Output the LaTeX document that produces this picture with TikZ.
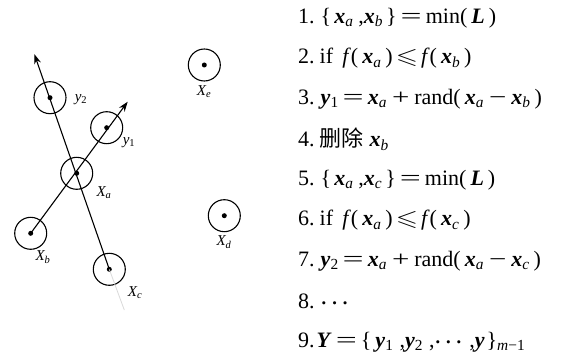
\documentclass[tikz,border=0pt]{standalone}
\usepackage{amsmath,amssymb,graphicx}
\usepackage{fontspec}
\setmainfont{Liberation Serif}
\newfontfamily\cjk{Noto Sans CJK SC}
\usetikzlibrary{arrows.meta}
\newcommand\vx[1]{\textbf{\textit{#1}}}
\newcommand\vsub[1]{\textsubscript{\textit{#1}}}
\newcommand\vsubu[1]{\textsubscript{#1}}
\newcommand\weq{\hspace{4pt}\scalebox{1.7}[1]{=}\hspace{4pt}}
\newcommand\wplus{\hspace{5pt}\scalebox{1.4}[1]{+}\hspace{5pt}}
\newcommand\wminus{\hspace{5pt}\scalebox{1.4}[1]{−}\hspace{5pt}}
\newcommand\wle{\hspace{3pt}\scalebox{1.3}[1]{$\leqslant$}\hspace{3pt}}
\newcommand\lp{(\hspace{4pt}}
\newcommand\rp{\hspace{4pt})}
\tikzset{
  pt/.style={circle,draw,line width=1.1pt,minimum size=32pt,inner sep=0pt},
  dotc/.style={circle,fill,inner sep=0pt,minimum size=5pt},
  lab/.style={font=\fontsize{15}{17}\selectfont\itshape,inner sep=0pt},
  vec/.style={line width=1.1pt,-{Stealth[length=10pt,width=7pt]}},
  stepline/.style={anchor=west,inner sep=0pt,font=\fontsize{22}{25}\selectfont}
}
\begin{document}
\begin{tikzpicture}[x=1pt,y=-1pt]
\useasboundingbox (0,0) rectangle (568,358);
% points
\node[pt] (y2) at (50,97.7) {};
\node[pt] (y1) at (106.7,127.7) {};
\node[pt] (xa) at (76.7,173.3) {};
\node[pt] (xb) at (30.7,233.3) {};
\node[pt] (xc) at (109.3,269.3) {};
\node[pt] (xe) at (204.3,65) {};
\node[pt] (xd) at (224.3,215.7) {};
\foreach \n in {y2,y1,xa,xb,xc,xe,xd} \node[dotc] at (\n.center) {};
% connectors
\coordinate (tip1) at (127.7,101.7);
\coordinate (tip2) at (34.3,54);
\coordinate (tail2) at (124.3,310);
\draw[black!15,line width=0.8pt] (xc.center) -- (tail2);
\draw[vec] (xb.center) -- (tip1);
\draw[vec] (xc.center) -- (tip2);
% labels
\node[lab] (ly2) at (81,100) {y\textsubscript{\textup{2}}};
\node[lab] (ly1) at (129,143) {y\textsubscript{\textup{1}}};
\node[lab] (lxa) at (104,193) {X\textsubscript{\textit{a}}};
\node[lab] (lxb) at (43,257) {X\textsubscript{\textit{b}}};
\node[lab] (lxc) at (135,293) {X\textsubscript{\textit{c}}};
\node[lab] (lxe) at (204,92) {X\textsubscript{\textit{e}}};
\node[lab] (lxd) at (224,242) {X\textsubscript{\textit{d}}};
% steps
\node[stepline] (s1) at (298,18) {1.\hspace{6pt}\{\hspace{3pt}\vx{x}\vsub{a}\hspace{5pt},\vx{x}\vsub{b}\hspace{3pt}\}\weq min\lp\vx{L}\rp};
\node[stepline] (s2) at (298,58.5) {2.\hspace{5pt}if \,\textit{f}\lp\vx{x}\vsub{a}\rp\wle\textit{f}\lp\vx{x}\vsub{b}\rp};
\node[stepline] (s3) at (298,99) {3.\hspace{6pt}\vx{y}\vsubu{1}\weq\vx{x}\vsub{a}\wplus rand\lp\vx{x}\vsub{a}\wminus\vx{x}\vsub{b}\rp};
\node[stepline] (s4) at (298,139.5) {4.\hspace{5pt}{\cjk 删除}\hspace{6pt}\vx{x}\vsub{b}};
\node[stepline] (s5) at (298,180) {5.\hspace{6pt}\{\hspace{3pt}\vx{x}\vsub{a}\hspace{5pt},\vx{x}\vsub{c}\hspace{3pt}\}\weq min\lp\vx{L}\rp};
\node[stepline] (s6) at (298,220.5) {6.\hspace{5pt}if \,\textit{f}\lp\vx{x}\vsub{a}\rp\wle\textit{f}\lp\vx{x}\vsub{c}\rp};
\node[stepline] (s7) at (298,261) {7.\hspace{6pt}\vx{y}\vsubu{2}\weq\vx{x}\vsub{a}\wplus rand\lp\vx{x}\vsub{a}\wminus\vx{x}\vsub{c}\rp};
\node[stepline] (s8) at (298,301.5) {8.\hspace{6pt}$\boldsymbol{\cdots}$};
\node[stepline] (s9) at (298,342) {9.\hspace{2pt}\vx{Y}\weq\{\hspace{4pt}\vx{y}\vsubu{1}\hspace{6pt},\vx{y}\vsubu{2}\hspace{6pt},$\boldsymbol{\cdots}$\hspace{3pt},\vx{y}\hspace{2pt}\}\textsubscript{\textit{m}−1}};
\end{tikzpicture}
\end{document}
